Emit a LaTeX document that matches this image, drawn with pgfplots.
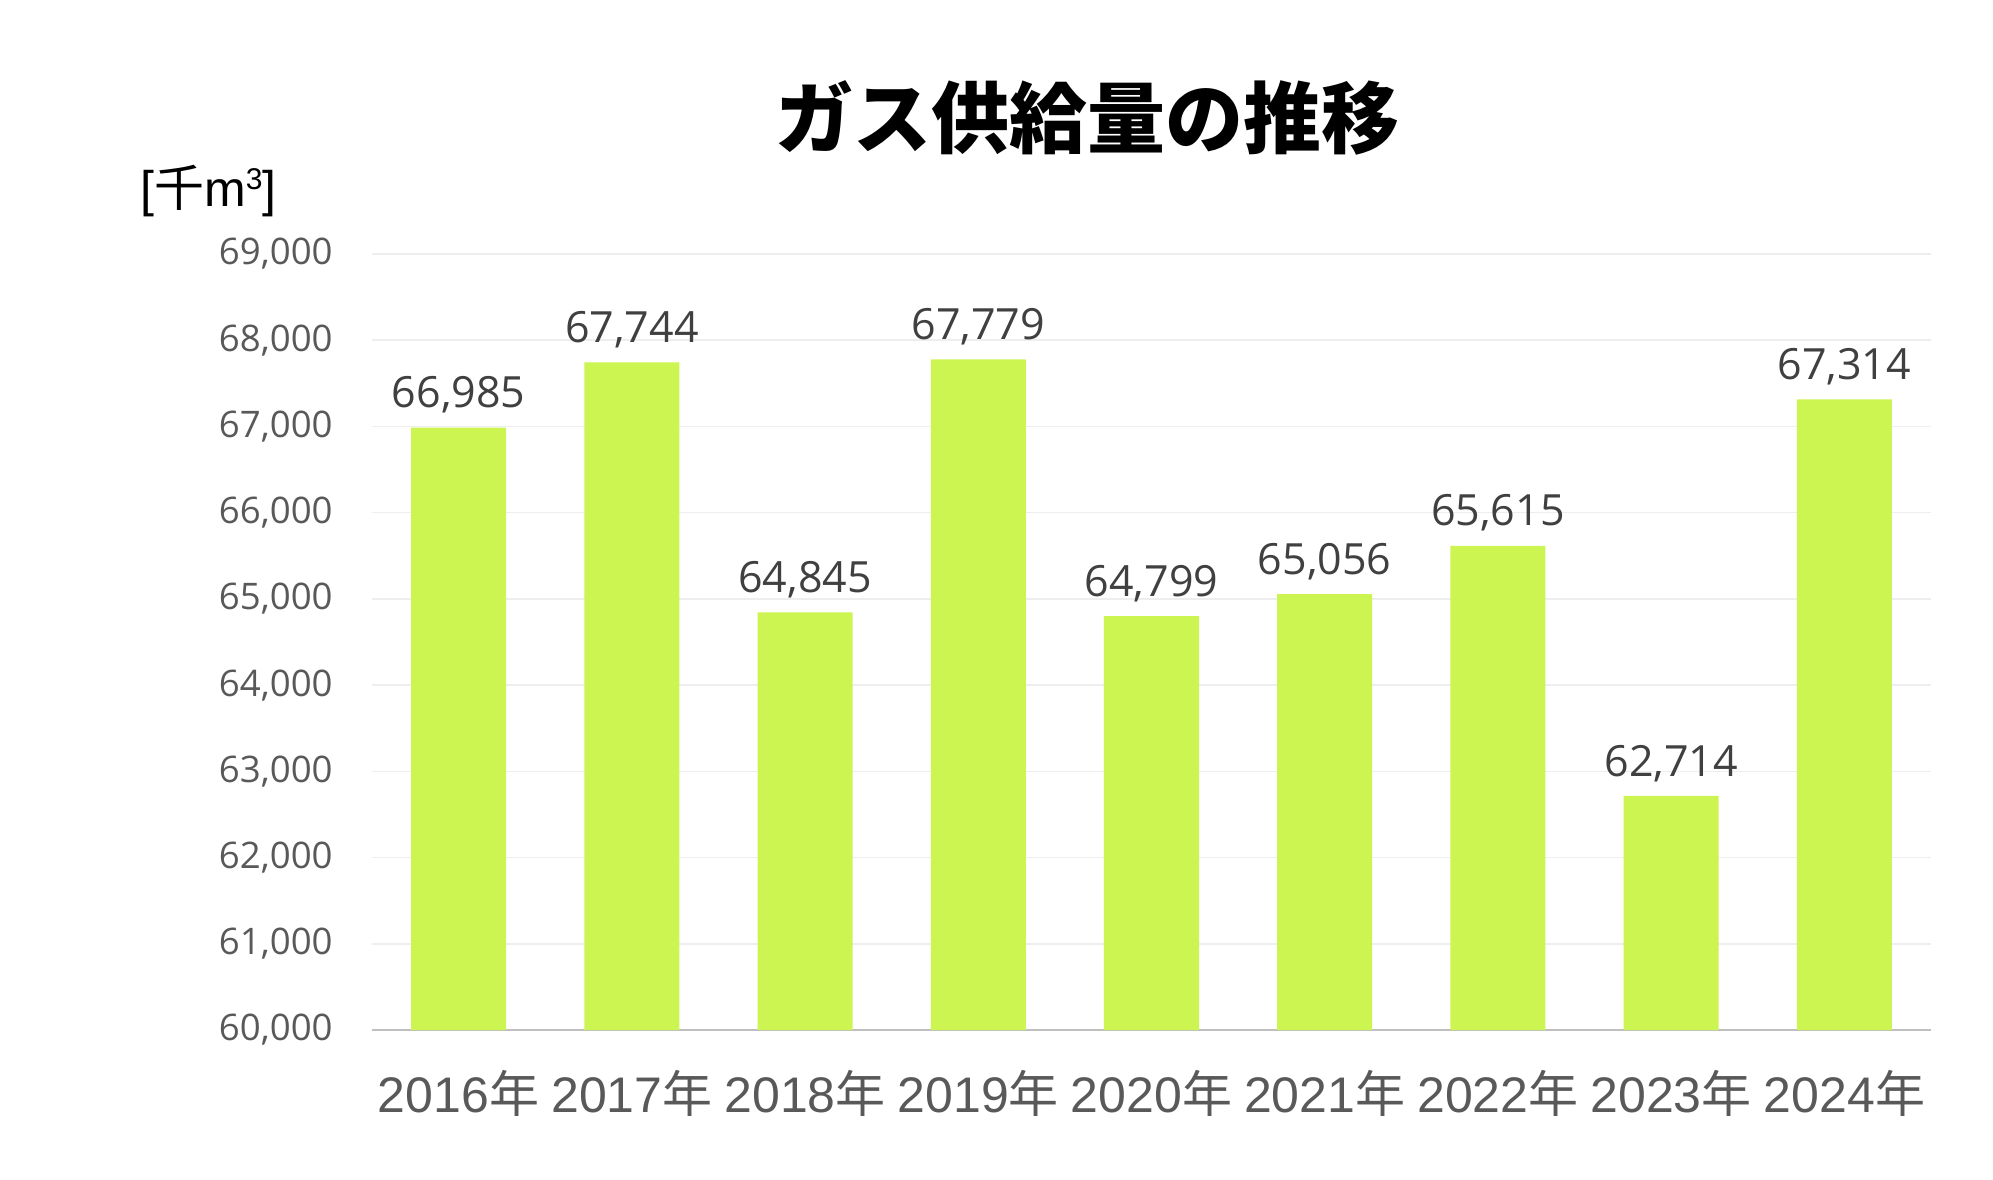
\documentclass[border=0pt]{standalone}
\usepackage{fontspec}
\usepackage{pgfplots}
\pgfplotsset{compat=1.18}
\setmainfont{Liberation Sans}
\newfontfamily\cjk{Noto Sans CJK JP}
\newfontfamily\opensans{Open Sans}
\definecolor{barcolor}{RGB}{204,245,82}
\definecolor{gridgray}{RGB}{238,238,238}
\definecolor{axisgray}{RGB}{191,191,191}
\definecolor{ticktext}{RGB}{89,89,89}
\definecolor{labeltext}{RGB}{64,64,64}
\begin{document}
\begin{tikzpicture}
\useasboundingbox (-186pt,-74.5pt) rectangle (810.5pt,515pt);
\begin{axis}[
  at={(0,0)}, anchor=south west,
  width=779.5pt, height=388pt, scale only axis,
  xmin=-0.5, xmax=8.5, ymin=60000, ymax=69000,
  ytick={60000,61000,...,69000},
  xtick={0,...,8},
  xticklabels={{2016{\cjk 年}},{2017{\cjk 年}},{2018{\cjk 年}},{2019{\cjk 年}},{2020{\cjk 年}},{2021{\cjk 年}},{2022{\cjk 年}},{2023{\cjk 年}},{2024{\cjk 年}}},
  ymajorgrids, grid style={draw=gridgray, line width=0.8pt},
  axis x line*=bottom, axis y line*=left,
  x axis line style={draw=axisgray, line width=1.3pt},
  y axis line style={draw=none},
  major tick length=0pt,
  scaled y ticks=false,
  /pgf/number format/1000 sep={,},
  /pgf/number format/assume math mode=true,
  y tick label style={font=\opensans\fontsize{18.3}{18.3}\selectfont, text=ticktext, inner sep=0pt, anchor=east, xshift=-19.5pt},
  x tick label style={font=\fontsize{25}{25}\selectfont, text=ticktext, inner sep=0pt, anchor=center, yshift=-31.5pt},
  ybar, bar width=47.5pt, bar shift=0pt,
  nodes near coords,
  nodes near coords style={font=\opensans\fontsize{21.5}{21.5}\selectfont, text=labeltext, inner sep=0pt, anchor=south, yshift=7pt},
]
\addplot[fill=barcolor, draw=none] coordinates {
(0,66985) (1,67744) (2,64845) (3,67779) (4,64799) (5,65056) (6,65615) (7,62714) (8,67314)};
\end{axis}
\node[font=\cjk\bfseries\fontsize{39}{39}\selectfont, text=black] at (357.5pt,456pt) {ガス供給量の推移};
\node[font=\fontsize{25}{25}\selectfont, anchor=west, inner sep=0pt] at (-116pt,419.5pt) {[{\cjk 千}m{\fontsize{15}{15}\selectfont\raisebox{0.55em}{3}}]};
\end{tikzpicture}
\end{document}
